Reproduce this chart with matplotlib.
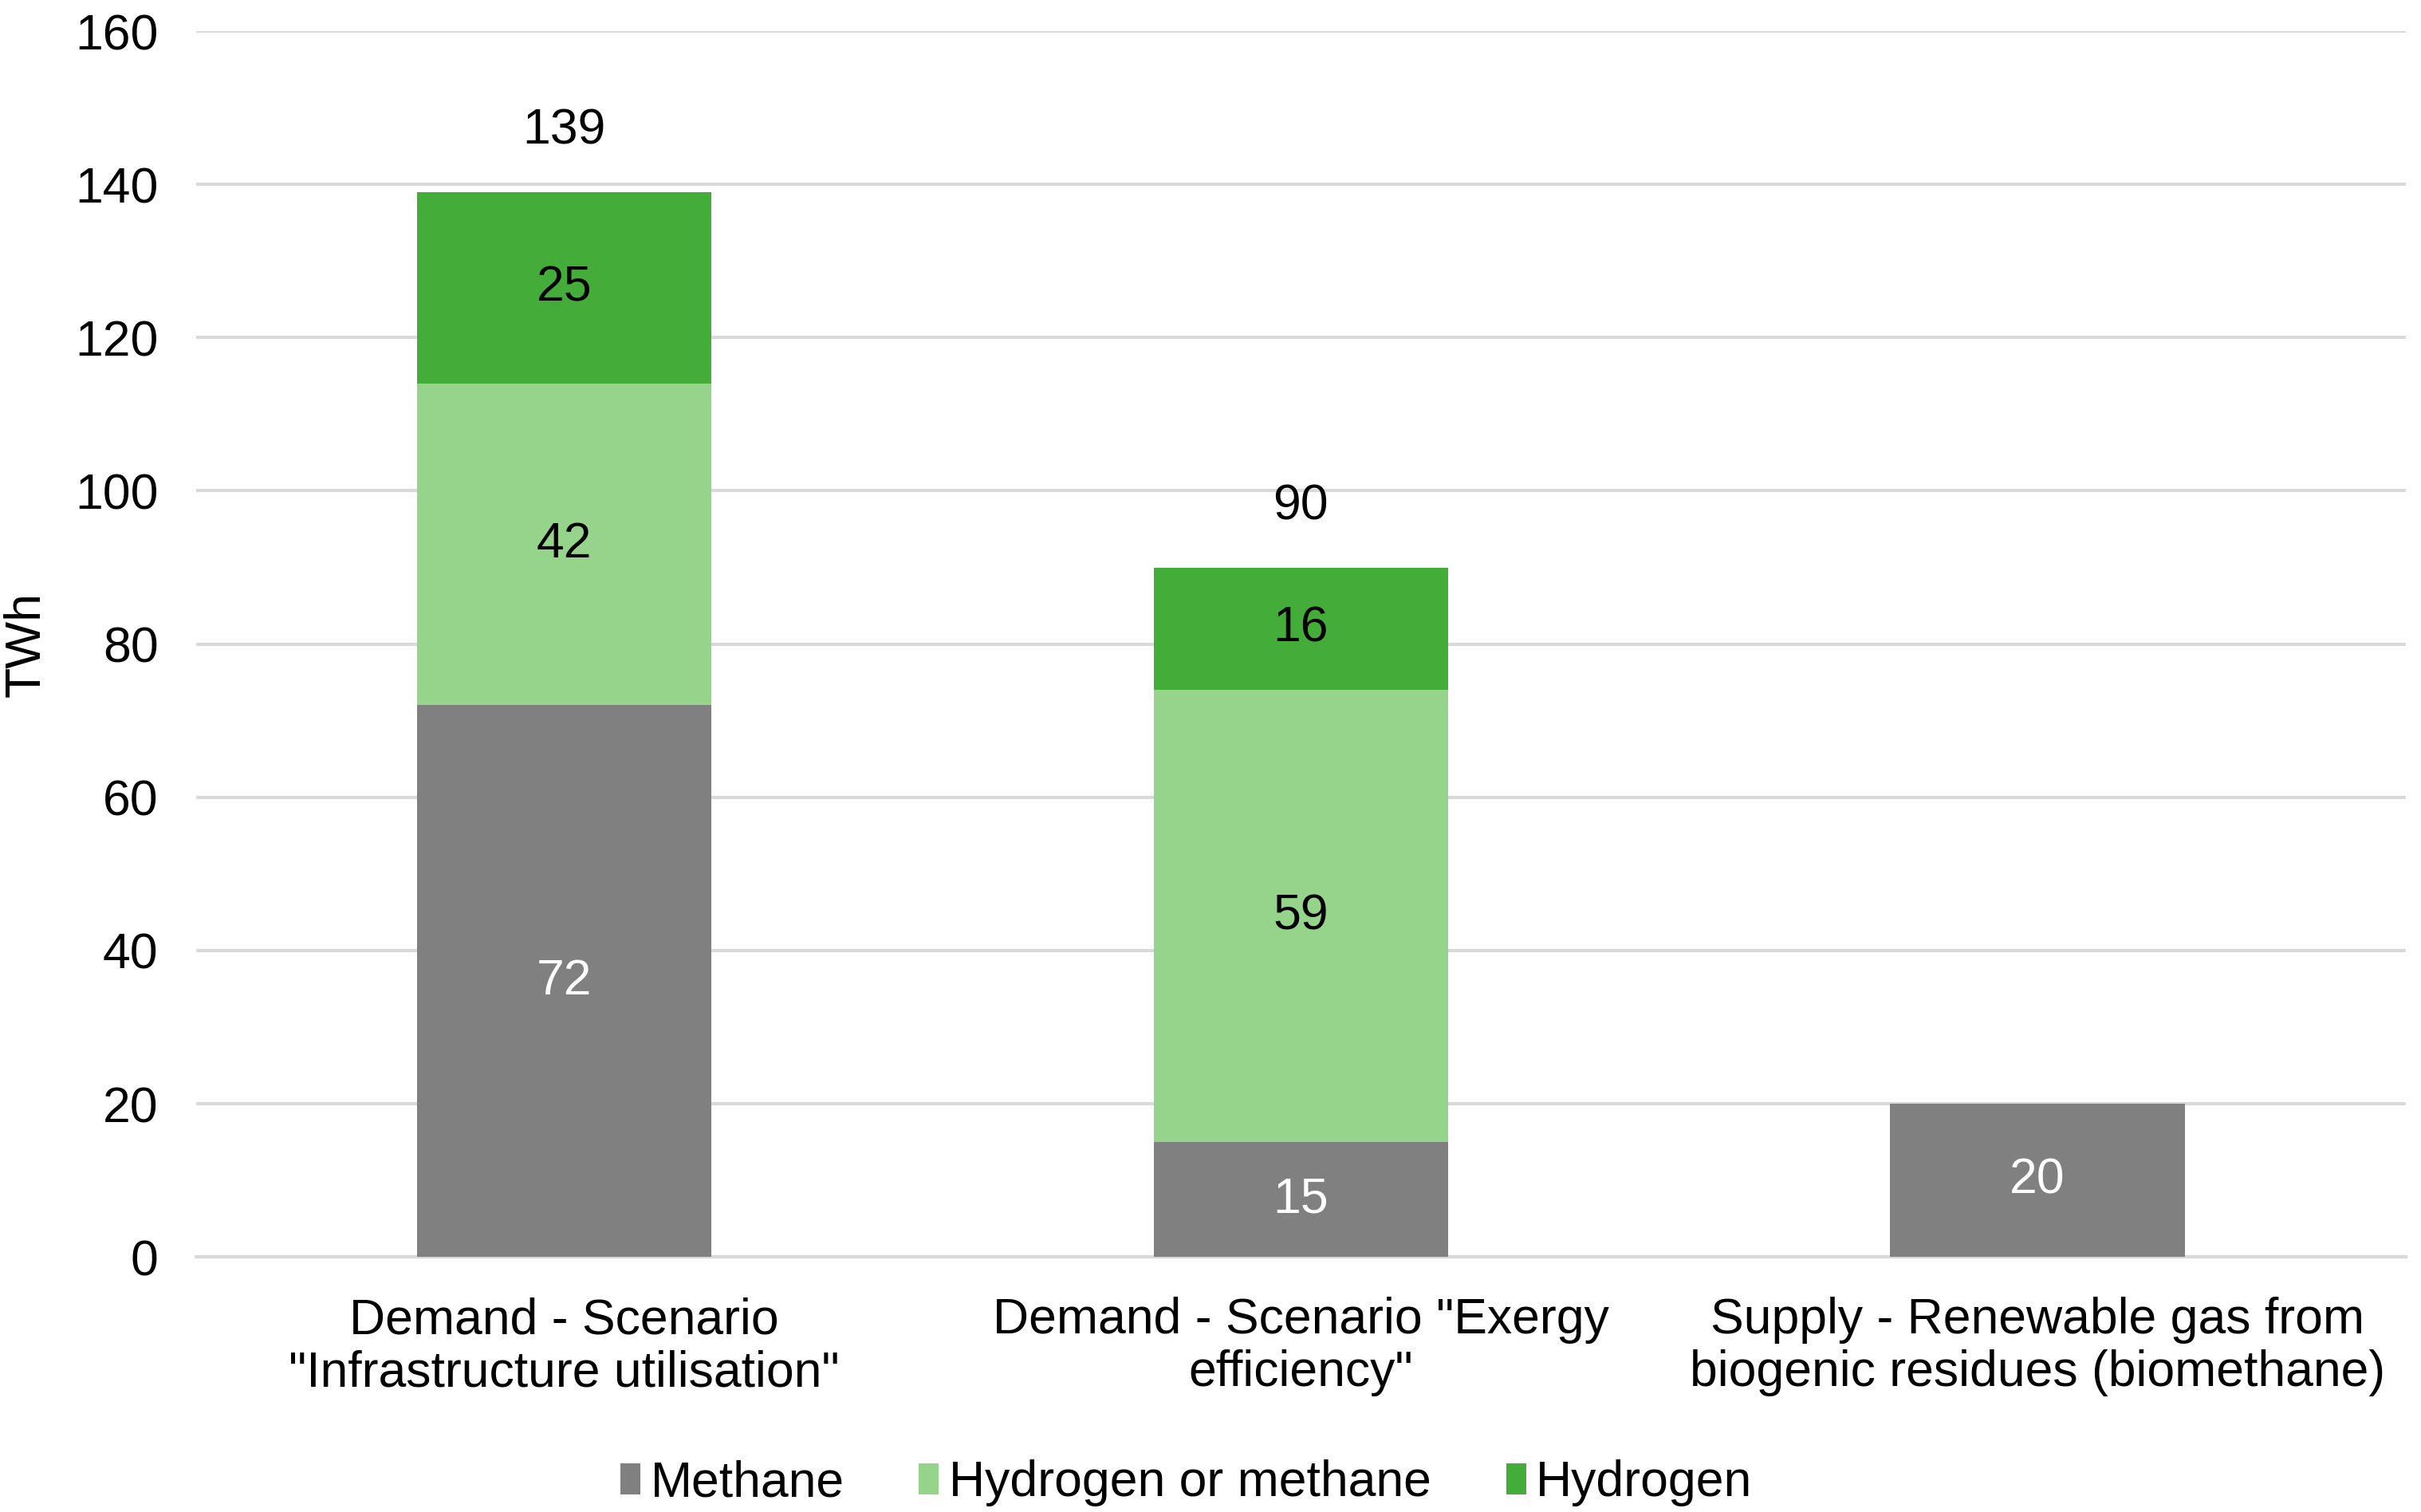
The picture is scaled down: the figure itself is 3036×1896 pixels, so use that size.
import matplotlib.pyplot as plt
import numpy as np

plt.rcParams['font.family'] = ['Liberation Sans', 'DejaVu Sans']

categories = ['Demand - Scenario\n"Infrastructure utilisation"',
              'Demand - Scenario "Exergy\nefficiency"',
              'Supply - Renewable gas from\nbiogenic residues (biomethane)']
series_names = ['Methane', 'Hydrogen or methane', 'Hydrogen']
methane = [72, 15, 20]
hydrogen_or_methane = [42, 59, 0]
hydrogen = [25, 16, 0]
totals = [139, 90, None]

colors = ['#808080', '#96D48C', '#44AD3A']
label_colors = ['white', 'black', 'black']

fs = 22.5
fig = plt.figure(figsize=(15.18, 9.48), dpi=200)
ax = fig.add_axes([0.081, 0.1687, 0.9126, 0.8107])

x = np.arange(len(categories))
bottom = np.zeros(len(categories))
for name, vals, col, lcol in zip(series_names,
                                 [methane, hydrogen_or_methane, hydrogen],
                                 colors, label_colors):
    vals = np.array(vals, dtype=float)
    ax.bar(x, vals, 0.4, bottom=bottom, color=col, label=name, zorder=3)
    for xi, b, v in zip(x, bottom, vals):
        if v > 0:
            ax.text(xi, b + v / 2, '%d' % v, ha='center', va='center',
                    fontsize=fs, color=lcol, zorder=4)
    bottom += vals

for xi, t in zip(x, totals):
    if t is not None:
        ax.text(xi, t + 8, '%d' % t, ha='center', va='center', fontsize=fs)

ax.set_xlim(-0.5, 2.5)
ax.set_ylim(0, 160)
ax.set_yticks(range(0, 161, 20))
ax.set_xticks(x)
ax.set_xticklabels(categories, fontsize=fs, linespacing=1.15)
ax.tick_params(axis='y', labelsize=fs, length=0, pad=17)
ax.tick_params(axis='x', length=0, pad=18)
ax.grid(axis='y', color='#D9D9D9', linewidth=1.5, zorder=0)
for s in ['top', 'right', 'left']:
    ax.spines[s].set_visible(False)
ax.spines['bottom'].set_color('#D9D9D9')
ax.spines['bottom'].set_linewidth(1.5)
ax.set_ylabel('TWh', fontsize=fs)
ax.yaxis.set_label_coords(-0.066, 0.5)

fig.legend(loc='center', bbox_to_anchor=(0.49, 0.019), ncol=3, frameon=False,
           fontsize=fs, handlelength=0.4, handleheight=0.6, handletextpad=0.2,
           columnspacing=1.5)

plt.savefig('out.png', dpi=200)
plt.close()
